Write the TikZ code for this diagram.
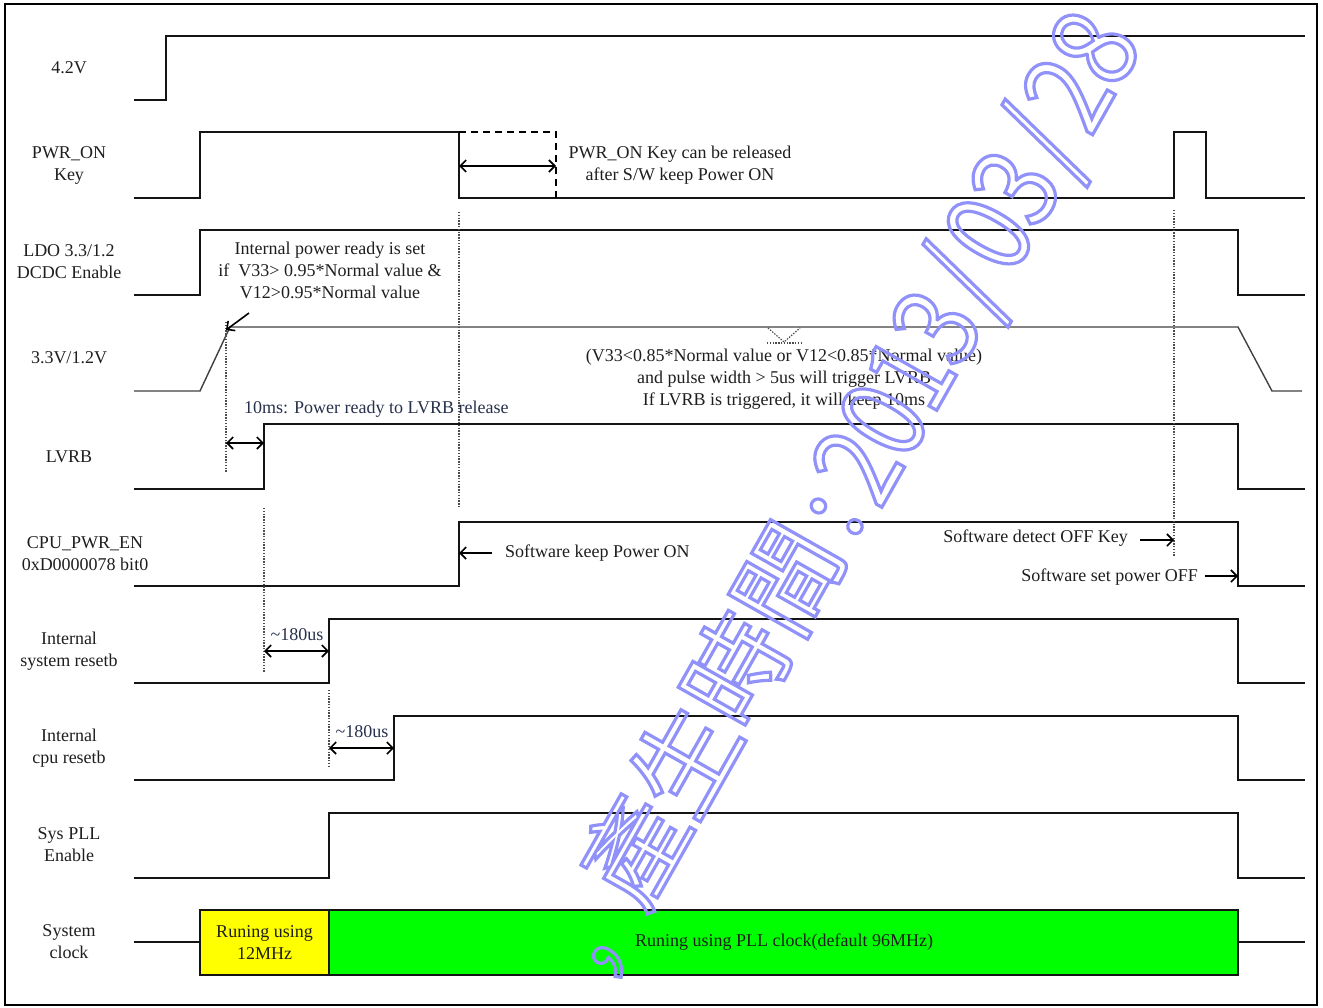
\documentclass[tikz,border=0pt]{standalone}
\usepackage{fontspec}
\setmainfont{Liberation Serif}
\newfontfamily\wmfont{Noto Sans CJK TC}
\newfontfamily\wmdig[FakeStretch=0.85]{Noto Sans CJK TC}
\usetikzlibrary{arrows.meta}
\definecolor{wmblue}{RGB}{145,145,250}
\definecolor{txt}{RGB}{30,30,30}
\definecolor{navytxt}{RGB}{38,48,74}
\definecolor{clkgreen}{RGB}{0,255,0}
\definecolor{clkyellow}{RGB}{255,255,0}
\newcommand\wmh[1]{\makebox[53.5pt]{#1}}
\newcommand\wmon{\special{pdf:literal direct 1 Tr 3.2 w}}
\newcommand\wmoff{\special{pdf:literal direct 0 Tr}}
\begin{document}
\begin{tikzpicture}[x=1pt,y=-1pt,
  frame/.style={line width=2.4pt, draw=black},
  sig/.style={line width=2pt, draw=black!92, line join=miter},
  ana/.style={line width=1.4pt, draw=black!75},
  guide/.style={line width=1.2pt, draw=black!70, dash pattern=on 1.4pt off 1.4pt},
  dashline/.style={line width=1.5pt, draw=black, dash pattern=on 7pt off 5pt},
  dimarrow/.style={line width=1.6pt, {Straight Barb[length=6pt,width=12pt]}-{Straight Barb[length=6pt,width=12pt]}},
  onearrow/.style={line width=1.6pt, -{Straight Barb[length=6pt,width=12pt]}},
  lbl/.style={font=\fontsize{18}{22}\selectfont, align=center, text=txt, inner sep=0pt},
  wm/.style={font=\wmfont\fontsize{104}{104}\selectfont, text=wmblue, inner sep=0pt, rotate=60.5}
]
\useasboundingbox (0,0) rectangle (1323,1007);
\draw[frame] (5,4) rectangle (1317,1005);

% ---------- signal labels ----------
\node[lbl] (l1) at (69,68) {4.2V};
\node[lbl] (l2) at (69,165) {PWR\_ON\\Key};
\node[lbl] (l3) at (69,262) {LDO 3.3/1.2\\DCDC Enable};
\node[lbl] (l4) at (69,358) {3.3V/1.2V};
\node[lbl] (l5) at (69,457) {LVRB};
\node[lbl] (l6) at (85,554) {CPU\_PWR\_EN\\0xD0000078 bit0};
\node[lbl] (l7) at (69,651) {Internal\\system resetb};
\node[lbl] (l8) at (69,748) {Internal\\cpu resetb};
\node[lbl] (l9) at (69,845) {Sys PLL\\Enable};
\node[lbl] (l10) at (69,942) {System\\clock};

% ---------- waveforms ----------
\draw[sig] (134,100) -- (166,100) -- (166,36) -- (1305,36);
\draw[sig] (134,198) -- (200,198) -- (200,132) -- (459,132) -- (459,198) -- (1174,198) -- (1174,132) -- (1206,132) -- (1206,198) -- (1305,198);
\draw[dashline] (459,132) -- (556,132) -- (556,198);
\draw[sig] (134,295) -- (200,295) -- (200,230) -- (1238,230) -- (1238,295) -- (1305,295);
\draw[ana] (134,391) -- (200,391) -- (230,327) -- (1238,327) -- (1272,391) -- (1302,391);
\draw[sig] (134,489) -- (264,489) -- (264,424) -- (1238,424) -- (1238,489) -- (1305,489);
\draw[sig] (134,586) -- (459,586) -- (459,522) -- (1238,522) -- (1238,586) -- (1305,586);
\draw[sig] (134,683) -- (329,683) -- (329,619) -- (1238,619) -- (1238,683) -- (1305,683);
\draw[sig] (134,780) -- (394,780) -- (394,716) -- (1238,716) -- (1238,780) -- (1305,780);
\draw[sig] (134,878) -- (329,878) -- (329,813) -- (1238,813) -- (1238,878) -- (1305,878);
\draw[sig] (134,942) -- (200,942);
\draw[sig] (1238,942) -- (1305,942);
\draw[sig, fill=clkyellow] (200,910) rectangle (329,975);
\draw[sig, fill=clkgreen] (329,910) rectangle (1238,975);
\node[lbl] (c12) at (264.5,942.5) {Runing using\\12MHz};
\node[lbl] (cpll) at (784,942.5) {Runing using PLL clock(default 96MHz)};

% ---------- guide (dotted) lines ----------
\coordinate (g1a) at (459,212); \coordinate (g1b) at (459,507);
\coordinate (g2a) at (1174,210); \coordinate (g2b) at (1174,556);
\coordinate (g3a) at (226,322); \coordinate (g3b) at (226,472);
\coordinate (g4a) at (264,508); \coordinate (g4b) at (264,673);
\coordinate (g5a) at (329,690); \coordinate (g5b) at (329,767);
\draw[guide] (g1a) -- (g1b);
\draw[guide] (g2a) -- (g2b);
\draw[guide] (g3a) -- (g3b);
\draw[guide] (g4a) -- (g4b);
\draw[guide] (g5a) -- (g5b);
\draw[guide] (768,328) -- (784,342) -- (800,328);
\draw[guide] (767,343) -- (801,343);

% ---------- arrows ----------
\coordinate (a1s) at (459,166); \coordinate (a1e) at (556,166);
\draw[dimarrow] (a1s) -- (a1e);
\coordinate (a2s) at (249,313); \coordinate (a2e) at (226,330);
\draw[onearrow] (a2s) -- (a2e);
\coordinate (a3s) at (226,443); \coordinate (a3e) at (264,443);
\draw[dimarrow] (a3s) -- (a3e);
\coordinate (a4s) at (492,553); \coordinate (a4e) at (459,553);
\draw[onearrow] (a4s) -- (a4e);
\coordinate (a5s) at (1140,540); \coordinate (a5e) at (1174,540);
\draw[onearrow] (a5s) -- (a5e);
\coordinate (a6s) at (1205,576); \coordinate (a6e) at (1238,576);
\draw[onearrow] (a6s) -- (a6e);
\coordinate (a7s) at (264,651); \coordinate (a7e) at (329,651);
\draw[dimarrow] (a7s) -- (a7e);
\coordinate (a8s) at (329,748); \coordinate (a8e) at (394,748);
\draw[dimarrow] (a8s) -- (a8e);

% ---------- annotations ----------
\node[lbl] (n1) at (680,165) {PWR\_ON Key can be released\\after S/W keep Power ON};
\node[lbl] (n2) at (330,270) {Internal power ready is set\\if\ \ V33> 0.95*Normal value \&\\V12>0.95*Normal value};
\node[lbl] (n3) at (784,379) {(V33<0.85*Normal value or V12<0.85*Normal value)\\and pulse width > 5us will trigger LVRB\\If LVRB is triggered, it will keep 10ms};
\node[lbl, anchor=west, text=navytxt] (n4) at (244,409) {10ms: Power ready to LVRB release};
\node[lbl, anchor=west] (n5) at (505,553) {Software keep Power ON};
\node[lbl, anchor=east] (n6) at (1128,538) {Software detect OFF Key};
\node[lbl, anchor=east] (n7) at (1198,577) {Software set power OFF};
\node[lbl, text=navytxt] (n8) at (297,635) {\textasciitilde180us};
\node[lbl, text=navytxt] (n9) at (362,732) {\textasciitilde180us};

% ---------- watermark ----------
\node[wm, anchor=base west] (wm1) at (642,915) {\wmon 產生時間\wmh{:}\raisebox{-8pt}{\wmdig\fontsize{118}{118}\selectfont\wmon\wmh{2}\wmh{0}\wmh{1}\wmh{3}\wmh{/}\wmh{0}\wmh{3}\wmh{/}\wmh{2}\wmh{8}}\wmoff};
\node[wm, anchor=base east] (wm0) at (668,934) {\wmon ，\wmoff};
\end{tikzpicture}
\end{document}
